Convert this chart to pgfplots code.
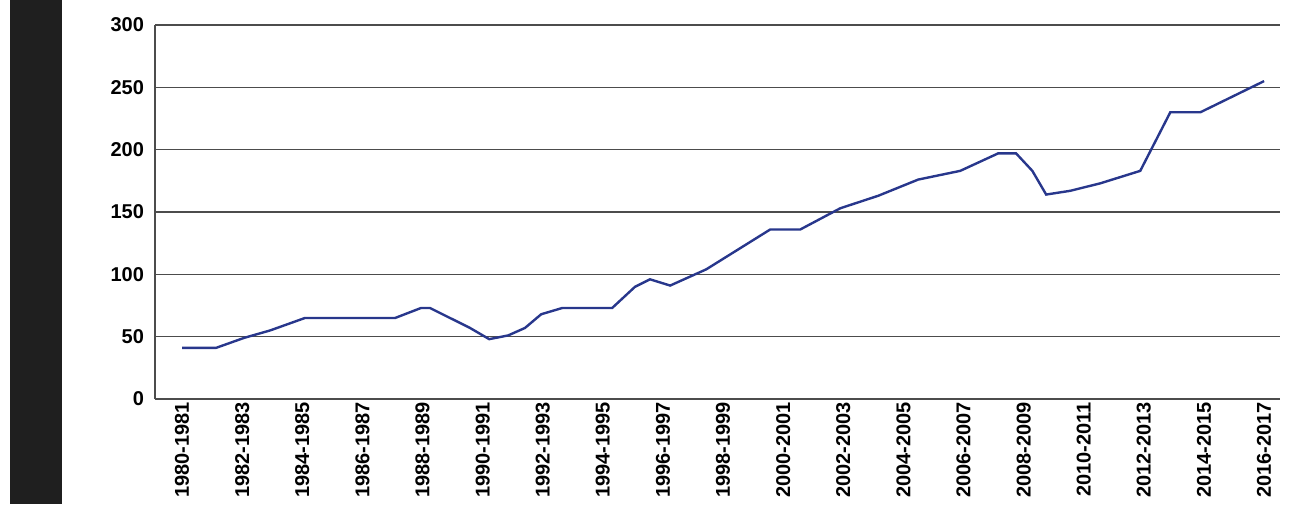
\documentclass[border=0pt]{standalone}
\usepackage{pgfplots}
\pgfplotsset{compat=1.18}
\usepackage{fontspec}
\setmainfont{Liberation Sans}
\begin{document}
\begin{tikzpicture}[x=0.5pt,y=0.5pt]
\useasboundingbox (0,0) rectangle (1294,504);
\fill[black!88] (10,0) rectangle (62,504);
\begin{axis}[at={(77.5pt,52.5pt)},anchor=south west,
 width=562.5pt,height=187pt,scale only axis,
 xmin=1979.1,xmax=2016.53,ymin=0,ymax=300,
 ytick={0,50,...,300},ymajorgrids,
 major grid style={black!70,line width=0.6pt},
 axis y line*=left, axis x line*=bottom,
 x axis line style={draw=none},
 y axis line style={black!70,line width=0.6pt,-},
 ytick style={draw=none}, xtick style={draw=none},
 xtick={1980,1982,...,2016},
 xticklabels={1980-1981,1982-1983,1984-1985,1986-1987,1988-1989,1990-1991,1992-1993,1994-1995,1996-1997,1998-1999,2000-2001,2002-2003,2004-2005,2006-2007,2008-2009,2010-2011,2012-2013,2014-2015,2016-2017},
 xticklabel style={rotate=90,anchor=east,font=\fontsize{10}{11}\selectfont\bfseries,xshift=-1pt},
 xticklabel shift=-3pt,
 yticklabel style={font=\fontsize{10}{11}\selectfont\bfseries,xshift=-2pt},
 /pgf/number format/assume math mode=true,
 clip=false]
\addplot[color={rgb,255:red,40;green,55;blue,140},line width=1.2pt] coordinates {
(1980,41)(1981.13,41)(1982.06,49)(1982.93,55)(1984.09,65)(1987.09,65)(1987.95,73)(1988.25,73)
(1989.58,57)(1990.22,48)(1990.85,51)(1991.41,57)(1991.95,68)(1992.65,73)(1994.31,73)(1995.07,90)
(1995.57,96)(1996.24,91)(1997.44,104)(1999.57,136)(2000.57,136)(2001.9,153)(2003.16,163)(2004.49,176)
(2005.89,183)(2007.15,197)(2007.75,197)(2008.29,183)(2008.75,164)(2009.55,167)(2010.55,173)(2011.88,183)
(2012.88,230)(2013.88,230)(2016,255)};
\end{axis}
\end{tikzpicture}
\end{document}
